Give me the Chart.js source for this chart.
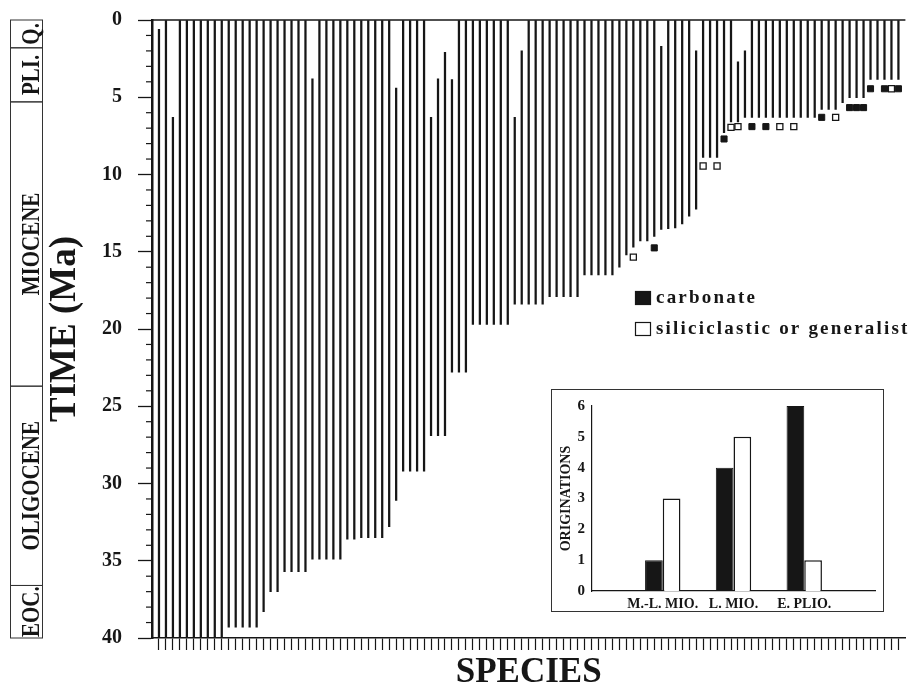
<!DOCTYPE html>
<html>
<head>
<meta charset="utf-8">
<script src="https://cdn.jsdelivr.net/npm/chart.js"></script>
<style>
    body { margin: 0; background: #fff; }
    #wrap { position: relative; width: 911px; height: 690px; }
    #inset { position: absolute; left: 551px; top: 389px; width: 331px; height: 221px; border: 1px solid #333; background: #fff; }
</style>
</head>
<body>
<div id="wrap">
    <canvas id="rangeChart" width="911" height="690"></canvas>
    <div id="inset"><canvas id="insetChart" width="331" height="221"></canvas></div>
</div>
<script>
// species ranges, Ma (top = last appearance, base = bottom of drawn line)
const lastAppearance = [
    0.6, 0, 6.3, 0, 0, 0, 0, 0, 0, 0,
    0, 0, 0, 0, 0, 0, 0, 0, 0, 0,
    0, 0, 3.8, 0, 0, 0, 0, 0, 0, 0,
    0, 0, 0, 0, 4.4, 0, 0, 0, 0, 6.3,
    3.8, 2.1, 3.85, 0, 0, 0, 0, 0, 0, 0,
    0, 6.3, 2.0, 0, 0, 0, 0, 0, 0, 0,
    0, 0, 0, 0, 0, 0, 0, 0, 0, 0,
    0, 0, 1.7, 0, 0, 0, 0, 2.0, 0, 0,
    0, 0, 0, 2.7, 2.0, 0, 0, 0, 0, 0,
    0, 0, 0, 0, 0, 0, 0, 0, 0, 0,
    0, 0, 0, 0, 0, 0, 0
];
const lineBase = [
    40, 40, 40, 40, 40, 40, 40, 40, 40, 40,
    39.3, 39.3, 39.3, 39.3, 39.3, 38.3, 37.0, 37.0, 35.7, 35.7,
    35.7, 35.7, 34.9, 34.9, 34.9, 34.9, 34.9, 33.6, 33.6, 33.5,
    33.5, 33.5, 33.5, 32.8, 31.1, 29.2, 29.2, 29.2, 29.2, 26.9,
    26.9, 26.9, 22.8, 22.8, 22.8, 19.7, 19.7, 19.7, 19.7, 19.7,
    19.7, 18.4, 18.4, 18.4, 18.4, 18.4, 17.9, 17.9, 17.9, 17.9,
    17.9, 16.5, 16.5, 16.5, 16.5, 16.5, 16.0, 15.2, 14.7, 14.3,
    14.3, 14.0, 13.55, 13.5, 13.45, 13.2, 12.7, 12.25, 8.9, 8.9,
    8.9, 7.3, 6.6, 6.6, 6.3, 6.3, 6.3, 6.3, 6.3, 6.3,
    6.3, 6.3, 6.3, 6.3, 6.3, 5.78, 5.78, 5.78, 5.35, 5.03,
    5.03, 5.03, 3.84, 3.84, 3.84, 3.84, 3.84
];

// originations marked by habitat
const carbonateSpecies = [71, 81, 85, 87, 95, 99, 100, 101, 102, 104, 106];
const carbonateAge = [14.75, 7.7, 6.9, 6.9, 6.3, 5.67, 5.67, 5.67, 4.45, 4.45, 4.45];
const siliciclasticSpecies = [68, 78, 80, 82, 83, 89, 91, 97, 105];
const siliciclasticAge = [15.35, 9.45, 9.45, 6.95, 6.9, 6.9, 6.9, 6.3, 4.45];

// epochs column
const epochNames = ['Q.', 'PLI.', 'MIOCENE', 'OLIGOCENE', 'EOC.'];
const epochTop = [0, 1.8, 5.3, 23.7, 36.6];
const epochBottom = [1.8, 5.3, 23.7, 36.6, 40];

// inset
const periods = ['M.-L. MIO.', 'L. MIO.', 'E. PLIO.'];
const carbonateCounts = [1, 4, 6];
const siliciclasticCounts = [3, 5, 1];

const INK = '#161616';
const SERIF = "'Liberation Serif', 'DejaVu Serif', serif";

const frameAndEpochs = {
    id: 'frameAndEpochs',
    afterDraw(chart) {
        const ctx = chart.ctx;
        const area = chart.chartArea;
        const ys = chart.scales.y;
        ctx.save();
        // top border
        ctx.strokeStyle = INK;
        ctx.lineWidth = 1.5;
        ctx.beginPath();
        ctx.moveTo(area.left, area.top);
        ctx.lineTo(area.right, area.top);
        ctx.stroke();
        // minor ticks
        ctx.lineWidth = 1.2;
        ys.ticks.forEach(t => {
            if (t.value % 5 !== 0) {
                const py = ys.getPixelForValue(t.value);
                ctx.beginPath();
                ctx.moveTo(ys.right - 6, py);
                ctx.lineTo(ys.right, py);
                ctx.stroke();
            }
        });
        // epoch boxes
        ctx.lineWidth = 1;
        ctx.strokeStyle = '#333';
        ctx.fillStyle = INK;
        ctx.font = 'bold 21px ' + SERIF;
        ctx.textAlign = 'center';
        ctx.textBaseline = 'alphabetic';
        for (let k = 0; k < epochNames.length; k++) {
            const y0 = ys.getPixelForValue(epochTop[k]);
            const y1 = ys.getPixelForValue(epochBottom[k]);
            ctx.strokeRect(10.5, y0, 32, y1 - y0);
            ctx.save();
            ctx.translate(39, (y0 + y1) / 2);
            ctx.rotate(-Math.PI / 2);
            ctx.scale(1, 1.2);
            ctx.fillText(epochNames[k], 0, 0);
            ctx.restore();
        }
        // legend
        const sets = chart.data.datasets;
        ctx.font = 'bold 19px ' + SERIF;
        ctx.letterSpacing = '2.2px';
        ctx.textAlign = 'left';
        [sets[1], sets[2]].forEach((ds, k) => {
            const top = 291 + k * 31;
            ctx.fillStyle = ds.backgroundColor;
            ctx.fillRect(635, top, 16, 14);
            ctx.strokeStyle = INK;
            ctx.lineWidth = 1.2;
            ctx.strokeRect(635.5, top + 0.5, 15, 13);
            ctx.fillStyle = INK;
            ctx.fillText(ds.label, 656, top + 12);
        });
        ctx.restore();
    }
};

const rangeData = {
    datasets: [
        {
            type: 'bar',
            label: 'ranges',
            data: lastAppearance.map((top, i) => ({ x: i, y: [top, lineBase[i]] })),
            backgroundColor: INK,
            barThickness: 1.6,
            order: 3
        },
        {
            type: 'scatter',
            label: 'carbonate',
            data: carbonateSpecies.map((s, k) => ({ x: s, y: carbonateAge[k] })),
            pointStyle: 'rect',
            pointRadius: 4.3,
            backgroundColor: INK,
            borderColor: INK,
            borderWidth: 1,
            order: 1
        },
        {
            type: 'scatter',
            label: 'siliciclastic or generalist',
            data: siliciclasticSpecies.map((s, k) => ({ x: s, y: siliciclasticAge[k] })),
            pointStyle: 'rect',
            pointRadius: 4.3,
            backgroundColor: '#ffffff',
            borderColor: INK,
            borderWidth: 1.3,
            order: 2
        }
    ]
};

const rangeChart = new Chart(document.getElementById('rangeChart'), {
    type: 'bar',
    data: rangeData,
    options: {
        responsive: false,
        animation: false,
        layout: { padding: { top: 20, right: 2, left: 0, bottom: 0 } },
        plugins: { legend: { display: false }, tooltip: { enabled: false } },
        scales: {
            x: {
                type: 'linear',
                min: -1,
                max: 107,
                offset: false,
                afterFit: s => { s.height = 52; },
                grid: {
                    offset: false,
                    drawOnChartArea: false,
                    tickLength: 12,
                    tickWidth: 1.2,
                    tickColor: c => (c.tick.value < 0 || c.tick.value > 106) ? 'rgba(0,0,0,0)' : INK
                },
                border: { color: INK, width: 1.5 },
                ticks: { display: false, stepSize: 1, autoSkip: false },
                title: {
                    display: true,
                    text: 'SPECIES',
                    color: INK,
                    font: { family: SERIF, weight: 'bold', size: 35, lineHeight: 1 },
                    padding: { top: 0, bottom: 0 }
                }
            },
            y: {
                reverse: true,
                min: 0,
                max: 40,
                afterFit: s => { s.width = 152; },
                grid: {
                    drawOnChartArea: false,
                    tickLength: 14,
                    tickWidth: 1.3,
                    tickColor: c => c.tick.value % 5 === 0 ? INK : 'rgba(0,0,0,0)'
                },
                border: { color: INK, width: 2.5 },
                ticks: {
                    stepSize: 1,
                    autoSkip: false,
                    padding: 16,
                    color: INK,
                    font: { family: SERIF, weight: 'bold', size: 20, lineHeight: 0.4 },
                    callback: v => v % 5 === 0 ? v : ''
                },
                title: {
                    display: true,
                    text: 'TIME (Ma)',
                    color: INK,
                    font: { family: SERIF, weight: 'bold', size: 37, lineHeight: 1 },
                    padding: { top: 47, bottom: 0 }
                }
            }
        }
    },
    plugins: [frameAndEpochs]
});

const insetChart = new Chart(document.getElementById('insetChart'), {
    type: 'bar',
    data: {
        datasets: [
            {
                label: 'carbonate',
                data: carbonateCounts.map((v, k) => ({ x: k + 1, y: v })),
                backgroundColor: INK,
                borderColor: INK,
                borderWidth: 1
            },
            {
                label: 'siliciclastic or generalist',
                data: siliciclasticCounts.map((v, k) => ({ x: k + 1, y: v })),
                backgroundColor: '#ffffff',
                borderColor: INK,
                borderWidth: 1.5
            }
        ]
    },
    options: {
        responsive: false,
        animation: false,
        layout: { padding: { top: 12, right: 8, left: 0, bottom: 0 } },
        plugins: { legend: { display: false }, tooltip: { enabled: false } },
        datasets: { bar: { barPercentage: 1, categoryPercentage: 0.5 } },
        scales: {
            x: {
                type: 'linear',
                min: 0,
                max: 4,
                offset: false,
                afterFit: s => { s.height = 20; },
                grid: { display: false, drawTicks: false },
                border: { color: INK, width: 1.2 },
                ticks: {
                    stepSize: 1,
                    autoSkip: false,
                    maxRotation: 0,
                    padding: 5,
                    color: INK,
                    font: { family: SERIF, weight: 'bold', size: 14 },
                    callback: v => periods[v - 1] || ''
                }
            },
            y: {
                min: 0,
                max: 6,
                afterFit: s => { s.width = 40; },
                grid: { display: false, drawTicks: false },
                border: { color: INK, width: 1.2 },
                ticks: {
                    stepSize: 1,
                    padding: 7,
                    color: INK,
                    font: { family: SERIF, weight: 'bold', size: 15 }
                },
                title: {
                    display: true,
                    text: 'ORIGINATIONS',
                    color: INK,
                    font: { family: SERIF, weight: 'bold', size: 14, lineHeight: 1 },
                    padding: { top: 7, bottom: 0 }
                }
            }
        }
    }
});
</script>
</body>
</html>
